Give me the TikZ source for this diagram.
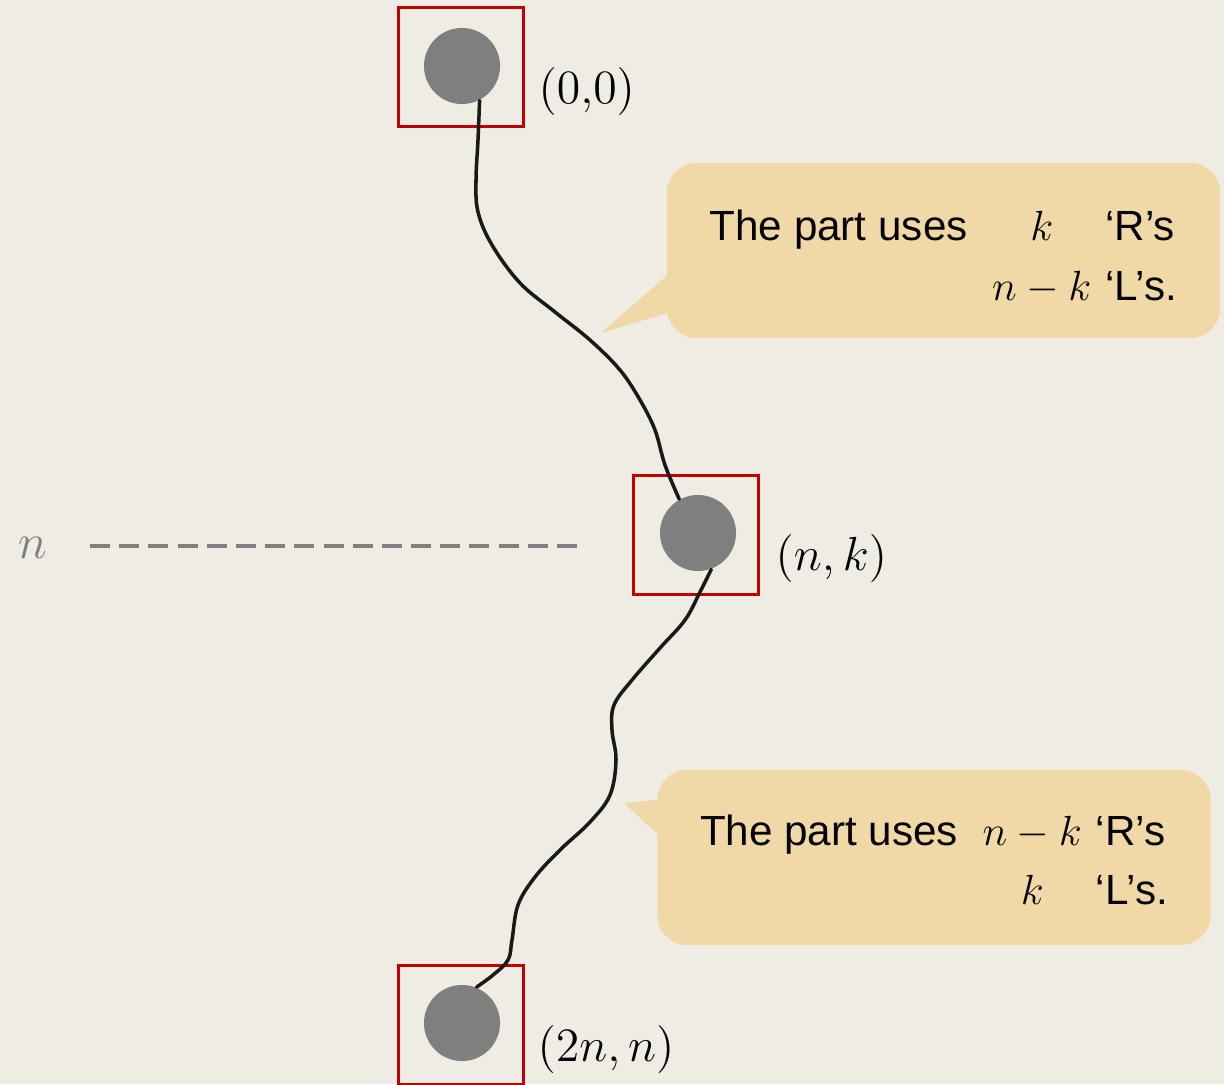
\RequirePackage{fix-cm}
\documentclass[tikz,border=0pt]{standalone}
\usepackage{fontspec}
\newfontfamily\callfont{Liberation Sans}
\usetikzlibrary{positioning}

\definecolor{paper}{RGB}{239,236,227}
\definecolor{bubble}{RGB}{240,217,166}
\definecolor{boxred}{RGB}{192,0,0}
\definecolor{dotgray}{RGB}{127,127,127}

\begin{document}
\begin{tikzpicture}[x=0.01cm,y=-0.01cm,
    dot/.style={circle,fill=dotgray,minimum size=0.76cm,inner sep=0pt},
    frame/.style={draw=boxred,line width=0.6pt,minimum width=1.25cm,minimum height=1.19cm,inner sep=0pt},
    coordlabel/.style={anchor=west,inner sep=0pt,font=\fontsize{13.6}{16}\selectfont},
    bubblebox/.style={fill=bubble,rounded corners=0.3cm,minimum width=5.53cm,minimum height=1.75cm,inner sep=0pt},
    note/.style={inner sep=0pt,font=\callfont\fontsize{12}{17}\selectfont},
    walk/.style={draw=black!90,line width=1pt,line cap=round,line join=round},
    guide/.style={draw=dotgray,line width=1.4pt,dash pattern=on 5.7pt off 2.6pt}]

        % Background and page size
        \fill[paper] (0,0) rectangle (1224,1084);
        \useasboundingbox (0,0) rectangle (1224,1084);

        % The three points with their frames
        \node[frame] (topbox) at (461,67) {};
        \node[frame] (midbox) at (696,535) {};
        \node[frame] (botbox) at (461,1025) {};
        \node[dot] (top) at (462,66) {};
        \node[dot] (mid) at (698,533) {};
        \node[dot] (bot) at (462,1023) {};

        \node[coordlabel] (lab00) at (538,92) {$(0{,}0)$};
        \node[coordlabel] (labnk) at (775,559) {$(n,k)$};
        \node[coordlabel] (lab2nn) at (537,1050) {$(2n,n)$};

        % Level line
        \node[inner sep=0pt,text=dotgray,font=\fontsize{14}{16}\selectfont] (nlevel) at (33,548) {$n$};
        \coordinate (guidestart) at (90,546);
        \coordinate (guideend) at (580,546);
        \draw[guide] (guidestart) -- (guideend);

        % Hand drawn lattice path
        \draw[walk] plot[smooth,tension=0.6] coordinates {(top.-63) (478,140) (476,180) (478,212)
            (492,245) (520,283) (555,312) (590,340) (620,370) (640,400) (655,430) (665,465) (mid.119)};
        \draw[walk] plot[smooth,tension=0.6] coordinates {(mid.-70) (700,592) (685,620) (660,648)
            (632,680) (614,705) (612,730) (616,760) (610,795) (590,822) (560,850) (535,877)
            (518,905) (512,940) (508,960) (493,975) (bot.68)};

        % Speech bubbles
        \node[bubblebox] (bubble1) at (943.5,250.5) {};
        \fill[bubble] ([xshift=3pt]bubble1.west |- 0,267) -- (601,333) -- ([xshift=3pt]bubble1.west |- 0,310) -- cycle;
        \node[note] (note1) at ([yshift=-0.08cm]bubble1.center) {%
            \begin{tabular}{@{}l@{\hspace{7pt}}c@{\hspace{4pt}}l@{}}
            The part uses & $k$ & ‘R’s\\
             & $n-k$ & ‘L’s.
            \end{tabular}};

        \node[bubblebox] (bubble2) at (934,857.5) {};
        \fill[bubble] ([xshift=3pt]bubble2.west |- 0,799) -- (624,803) -- ([xshift=3pt]bubble2.west |- 0,843) -- cycle;
        \node[note] (note2) at ([yshift=-0.055cm]bubble2.center) {%
            \begin{tabular}{@{}l@{\hspace{7pt}}c@{\hspace{4pt}}l@{}}
            The part uses & $n-k$ & ‘R’s\\
             & $k$ & ‘L’s.
            \end{tabular}};
\end{tikzpicture}
\end{document}
